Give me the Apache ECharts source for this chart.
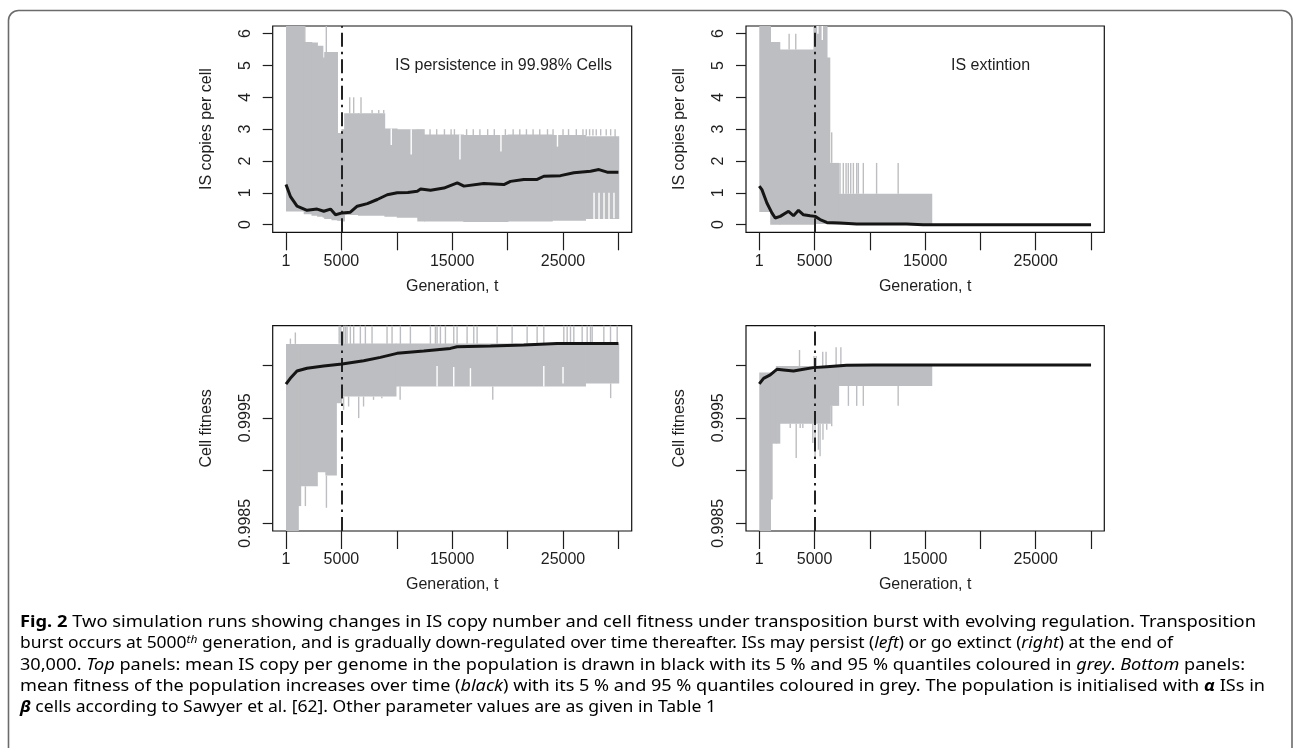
<!DOCTYPE html>
<html><head><meta charset="utf-8">
<script src="https://cdn.jsdelivr.net/npm/echarts@6/dist/echarts.min.js"></script>
<style>html,body{margin:0;padding:0;background:#fff}#c{width:1293px;height:748px}</style>
</head><body><div id="c"></div>
<script>
// ---------------- DATA ----------------
const genTicks = [1, 5000, 10000, 15000, 20000, 25000, 30000];
const genLabels = [1, 5000, 15000, 25000];
const copyTicks = [0, 1, 2, 3, 4, 5, 6];
const fitTicks = [0.9985, 0.999, 0.9995, 1.0];
const fitLabels = [0.9985, 0.9995];
const burstGen = 5000;

// Top-left: IS persistence
const tlMeanGen = [1, 393, 997, 1903, 2809, 3413, 4017, 4470, 5074, 5810, 6430, 7340, 8240, 9140, 10040, 11000, 11850, 12150, 13050, 14250, 15460, 16060, 17850, 19660, 20260, 21460, 22670, 23270, 24770, 25980, 27480, 28240, 28990, 30000];
const tlMeanVal = [1.26, 0.89, 0.58, 0.45, 0.49, 0.42, 0.49, 0.31, 0.37, 0.39, 0.58, 0.66, 0.79, 0.94, 1.0, 1.01, 1.05, 1.12, 1.08, 1.15, 1.31, 1.21, 1.29, 1.26, 1.36, 1.42, 1.42, 1.52, 1.54, 1.63, 1.68, 1.73, 1.65, 1.65];
const tlBandGen = [1, 1600, 2300, 2810, 3300, 3450, 4100, 4620, 5000, 5250, 6500, 8880, 10000, 11850, 12450, 16000, 20000, 24000, 27000, 30000];
const tlBandLo = [0.41, 0.33, 0.28, 0.25, 0.22, 0.18, 0.14, 0.12, 0.10, 0.30, 0.28, 0.25, 0.22, 0.10, 0.10, 0.08, 0.10, 0.12, 0.18];
const tlBandHi = [7, 5.74, 5.72, 5.62, 5.25, 5.42, 5.42, 2.88, 3.0, 3.5, 3.5, 3.02, 3.0, 3.0, 2.83, 2.82, 2.83, 2.82, 2.78];
const tlSpikeGen = [1700, 3640, 5750, 6110, 6770, 7770, 8370, 8820, 13000, 13600, 14300, 14900, 15200, 16300, 16900, 17500, 18200, 18800, 19800, 20500, 21100, 21700, 22300, 22900, 23600, 24100, 25000, 25500, 26200, 26800, 27100, 27400, 27700, 28000, 28400, 28900, 29300, 29700];
const tlSpikeLo = [5.7, 5.4, 3.5, 3.5, 3.5, 3.5, 3.5, 3.5, 2.8, 2.8, 2.8, 2.8, 2.8, 2.8, 2.8, 2.8, 2.8, 2.8, 2.8, 2.8, 2.8, 2.8, 2.8, 2.8, 2.8, 2.8, 2.8, 2.8, 2.8, 2.8, 2.8, 2.8, 2.8, 2.8, 2.8, 2.8, 2.8, 2.7];
const tlSpikeHi = [7, 7, 4.0, 4.0, 4.0, 3.6, 3.6, 3.6, 3.0, 3.0, 3.0, 3.0, 3.0, 3.0, 3.0, 3.0, 3.0, 3.0, 3.0, 3.0, 3.0, 3.0, 3.0, 3.0, 3.0, 3.0, 3.0, 3.0, 3.0, 3.0, 3.0, 3.0, 3.0, 3.0, 3.0, 3.0, 3.0, 3.0];
const tlGapGen = [9500, 11300, 15700, 19400, 24500, 27800, 28250, 28700, 29150, 29600];
const tlGapLo = [2.5, 2.2, 2.05, 2.3, 2.45, 0.15, 0.15, 0.15, 0.15, 0.2];
const tlGapHi = [3.02, 3.0, 2.83, 2.83, 2.83, 1.0, 1.0, 1.0, 1.0, 1.0];

// Top-right: IS extinction
const trMeanGen = [1, 240, 691, 1142, 1443, 1894, 2645, 3096, 3547, 3998, 4599, 5050, 5501, 6102, 7305, 8808, 13317, 14820, 30000];
const trMeanVal = [1.21, 1.10, 0.68, 0.37, 0.21, 0.26, 0.42, 0.28, 0.45, 0.31, 0.28, 0.26, 0.16, 0.07, 0.05, 0.02, 0.02, 0.0, 0.0];
const trBandGen = [1, 990, 1830, 4900, 6100, 6350, 7150, 15570];
const trBandLo = [0.40, 0.0, 0.0, 0.02, 0.0, 0.0, 0.0];
const trBandHi = [7, 5.74, 5.5, 7, 5.25, 1.94, 0.97];
const trSpikeGen = [2700, 3300, 6550, 7300, 7600, 7850, 8050, 8270, 8510, 8810, 8960, 9410, 10610, 12560];
const trSpikeLo = [5.5, 5.5, 1.94, 0.97, 0.97, 0.97, 0.97, 0.97, 0.97, 0.97, 0.97, 0.97, 0.97, 0.97];
const trSpikeHi = [6.0, 6.0, 2.9, 1.94, 1.94, 1.94, 1.94, 1.94, 1.94, 1.94, 1.94, 1.94, 1.94, 1.94];
const trGapGen = [5300, 5700];
const trGapLo = [6.0, 5.8];
const trGapHi = [6.3, 6.3];

// Bottom-left: fitness (persistence)
const blMeanGen = [1, 391, 993, 1896, 3401, 5057, 7013, 8518, 10023, 12431, 14839, 15441, 18451, 21461, 24471, 30000];
const blMeanVal = [0.999818, 0.999874, 0.999943, 0.999969, 0.99999, 1.00001, 1.000041, 1.000072, 1.00011, 1.000132, 1.000157, 1.000173, 1.000179, 1.000189, 1.000204, 1.000204];
const blBandGen = [1, 1087, 1300, 2800, 3550, 4520, 5000, 9900, 27000, 30000];
const blBandLo = [0.998, 0.998664, 0.998852, 0.998984, 0.998953, 0.999638, 0.999701, 0.999796, 0.999825];
const blBandHi = [1.000198, 1.000198, 1.000198, 1.000198, 1.000198, 1.000198, 1.000204, 1.000204, 1.000204];
const blSpikeGen = [1750, 3650, 5200, 5650, 6560, 7000, 7900, 8650, 10300, 18660, 29300, 400, 845, 4800, 4950, 5207, 5358, 5508, 5809, 6110, 6712, 7164, 7766, 9120, 9572, 10324, 11227, 13033, 13485, 13635, 13936, 14388, 15140, 15441, 16344, 16946, 17247, 19053, 20408, 21762, 22665, 23267, 25073, 25374, 25675, 25976, 26729, 27180, 27481, 27632, 28685, 29287, 29889];
const blSpikeLo = [0.998664, 0.998648, 0.999575, 0.999607, 0.999497, 0.999607, 0.99967, 0.999686, 0.99967, 0.99967, 0.999686, 1.0002, 1.0002, 1.0002, 1.0002, 1.0002, 1.0002, 1.0002, 1.0002, 1.0002, 1.0002, 1.0002, 1.0002, 1.0002, 1.0002, 1.0002, 1.0002, 1.0002, 1.0002, 1.0002, 1.0002, 1.0002, 1.0002, 1.0002, 1.0002, 1.0002, 1.0002, 1.0002, 1.0002, 1.0002, 1.0002, 1.0002, 1.0002, 1.0002, 1.0002, 1.0002, 1.0002, 1.0002, 1.0002, 1.0002, 1.0002, 1.0002, 1.0002];
const blSpikeHi = [0.998852, 0.998953, 0.999701, 0.999701, 0.999701, 0.999701, 0.999701, 0.999701, 0.999796, 0.999796, 0.999825, 1.00025, 1.000308, 1.0005, 1.0005, 1.0005, 1.0005, 1.0005, 1.0005, 1.0005, 1.0005, 1.0005, 1.0005, 1.0005, 1.0005, 1.0005, 1.0005, 1.0005, 1.0005, 1.0005, 1.0005, 1.0005, 1.0005, 1.0005, 1.0005, 1.0005, 1.0005, 1.0005, 1.0005, 1.0005, 1.0005, 1.0005, 1.0005, 1.0005, 1.0005, 1.0005, 1.0005, 1.0005, 1.0005, 1.0005, 1.0005, 1.0005, 1.0005];
const blGapGen = [13635, 15140, 16646, 23267, 25000];
const blGapLo = [0.999796, 0.999796, 0.999796, 0.999796, 0.999825];
const blGapHi = [0.99999, 0.99998, 0.99997, 0.99999, 0.99998];

// Bottom-right: fitness (extinction)
const brMeanGen = [1, 391, 992, 1593, 2194, 3096, 3998, 4900, 6102, 7906, 10310, 13317, 30000];
const brMeanVal = [0.999821, 0.999874, 0.999906, 0.999959, 0.999953, 0.999943, 0.999959, 0.999975, 0.999984, 0.999997, 1.0, 1.0, 1.0];
const brBandGen = [1, 990, 1140, 1500, 1830, 6400, 7150, 15570];
const brBandLo = [0.998, 0.998726, 0.999255, 0.999255, 0.999443, 0.999613, 0.999802];
const brBandHi = [0.999928, 0.999928, 0.999928, 0.99999, 0.99999, 0.99999, 0.99999];
const brSpikeGen = [3640, 4950, 5150, 5740, 6040, 6950, 7380, 2800, 3340, 3700, 3940, 4840, 5050, 5350, 5500, 5760, 6100, 6550, 8060, 8810, 9410, 12560];
const brSpikeLo = [0.99999, 0.99999, 0.99999, 0.99999, 0.99999, 0.99999, 0.99999, 0.999403, 0.999119, 0.999403, 0.999403, 0.999261, 0.999135, 0.999198, 0.999135, 0.999293, 0.999387, 0.99942, 0.999613, 0.999613, 0.999613, 0.999613];
const brSpikeHi = [1.000142, 1.000085, 1.000085, 1.000126, 1.000126, 1.000167, 1.000167, 0.999443, 0.999443, 0.999443, 0.999443, 0.999443, 0.999443, 0.999443, 0.999443, 0.999443, 0.999443, 0.999613, 0.999802, 0.999802, 0.999802, 0.999802];

const xAxisName = 'Generation, t';
const yNameTop = 'IS copies per cell';
const yNameBottom = 'Cell fitness';
const noteLeft = 'IS persistence in 99.98% Cells';
const noteRight = 'IS extintion';

const captionLines = [
  [['b', 'Fig. 2'], ['n', ' Two simulation runs showing changes in IS copy number and cell fitness under transposition burst with evolving regulation. Transposition']],
  [['n', 'burst occurs at 5000'], ['sup', 'th'], ['n', ' generation, and is gradually down-regulated over time thereafter. ISs may persist ('], ['i', 'left'], ['n', ') or go extinct ('], ['i', 'right'], ['n', ') at the end of']],
  [['n', '30,000. '], ['i', 'Top'], ['n', ' panels: mean IS copy per genome in the population is drawn in black with its 5\u00a0% and 95\u00a0% quantiles coloured in '], ['i', 'grey'], ['n', '. '], ['i', 'Bottom'], ['n', ' panels:']],
  [['n', 'mean fitness of the population increases over time ('], ['i', 'black'], ['n', ') with its 5\u00a0% and 95\u00a0% quantiles coloured in grey. The population is initialised with '], ['bi', '\u03b1'], ['n', ' ISs in']],
  [['bi', '\u03b2'], ['n', ' cells according to Sawyer et al. [62]. Other parameter values are as given in Table 1']]
];

// ---------------- LAYOUT / STYLE ----------------
const GREY = '#bdbec1';
const INK = '#1e1e1e';
const AXFONT = 'Liberation Sans';
const CAPFONT = 'Noto Sans';
const grids = [
  {left: 272.7, top: 26, width: 359, height: 206.3},
  {left: 746, top: 26, width: 358.3, height: 206.3},
  {left: 272.7, top: 325.7, width: 359, height: 205.3},
  {left: 746, top: 325.7, width: 358.3, height: 205.3}
];
const panels = [
  {mg: tlMeanGen, mv: tlMeanVal, bg: tlBandGen, bl: tlBandLo, bh: tlBandHi, sg: tlSpikeGen, sl: tlSpikeLo, sh: tlSpikeHi, gg: tlGapGen, gl: tlGapLo, gh: tlGapHi, top: true},
  {mg: trMeanGen, mv: trMeanVal, bg: trBandGen, bl: trBandLo, bh: trBandHi, sg: trSpikeGen, sl: trSpikeLo, sh: trSpikeHi, gg: trGapGen, gl: trGapLo, gh: trGapHi, top: true},
  {mg: blMeanGen, mv: blMeanVal, bg: blBandGen, bl: blBandLo, bh: blBandHi, sg: blSpikeGen, sl: blSpikeLo, sh: blSpikeHi, gg: blGapGen, gl: blGapLo, gh: blGapHi, top: false},
  {mg: brMeanGen, mv: brMeanVal, bg: brBandGen, bl: brBandLo, bh: brBandHi, sg: brSpikeGen, sl: brSpikeLo, sh: brSpikeHi, gg: [], gl: [], gh: [], top: false}
];

function clipTo(params, r) {
  const cs = params.coordSys;
  return echarts.graphic.clipRectByRect(r, {x: cs.x, y: cs.y, width: cs.width, height: cs.height});
}
function renderBand(params, api) {
  const a = api.coord([api.value(0), api.value(3)]);
  const b = api.coord([api.value(1), api.value(2)]);
  const r = clipTo(params, {x: a[0], y: a[1], width: Math.max(b[0] - a[0], 1.2) + 0.8, height: b[1] - a[1]});
  return r && {type: 'rect', shape: r, style: {fill: GREY, stroke: null, lineWidth: 0}};
}
function makeLineRender(color) {
  return function (params, api) {
    const a = api.coord([api.value(0), api.value(2)]);
    const b = api.coord([api.value(0), api.value(1)]);
    const r = clipTo(params, {x: a[0] - 0.7, y: a[1], width: 1.4, height: b[1] - a[1]});
    return r && {type: 'rect', shape: r, style: {fill: color, stroke: null, lineWidth: 0}};
  };
}

const xAxes = [], yAxes = [], series = [];
panels.forEach((p, i) => {
  xAxes.push({
    gridIndex: i, type: 'value', min: -1199, max: 31199,
    axisLine: {show: false, onZero: false},
    axisTick: {show: true, length: 18, customValues: genTicks, lineStyle: {color: INK, width: 1.2}},
    axisLabel: {customValues: genLabels, fontSize: 16, color: INK, margin: 21, fontFamily: AXFONT,
      formatter: v => String(Math.round(v))},
    splitLine: {show: false},
    name: xAxisName, nameLocation: 'middle', nameGap: 46,
    nameTextStyle: {fontSize: 16, color: INK, fontFamily: AXFONT}
  });
  yAxes.push(p.top ? {
    gridIndex: i, type: 'value', min: -0.24, max: 6.24,
    axisLine: {show: false, onZero: false},
    axisTick: {show: true, length: 10, customValues: copyTicks, lineStyle: {color: INK, width: 1.2}},
    axisLabel: {customValues: copyTicks, rotate: 90, fontSize: 16, color: INK, margin: 19, fontFamily: AXFONT,
      formatter: v => String(Math.round(v))},
    splitLine: {show: false},
    name: yNameTop, nameLocation: 'middle', nameGap: 58,
    nameTextStyle: {fontSize: 16, color: INK, fontFamily: AXFONT}
  } : {
    gridIndex: i, type: 'value', min: 0.998428, max: 1.000372,
    axisLine: {show: false, onZero: false},
    axisTick: {show: true, length: 10, customValues: fitTicks, lineStyle: {color: INK, width: 1.2}},
    axisLabel: {customValues: fitLabels, rotate: 90, fontSize: 16, color: INK, margin: 19, fontFamily: AXFONT,
      formatter: v => Number(v).toFixed(4)},
    splitLine: {show: false},
    name: yNameBottom, nameLocation: 'middle', nameGap: 58,
    nameTextStyle: {fontSize: 16, color: INK, fontFamily: AXFONT}
  });
  const band = [];
  for (let k = 0; k < p.bl.length; k++) band.push([p.bg[k], p.bg[k + 1], p.bl[k], p.bh[k]]);
  series.push({type: 'custom', xAxisIndex: i, yAxisIndex: i, renderItem: renderBand, data: band,
    encode: {x: [0, 1], y: [2, 3]}, silent: true, z: 1});
  series.push({type: 'custom', xAxisIndex: i, yAxisIndex: i, renderItem: makeLineRender(GREY),
    data: p.sg.map((g, k) => [g, p.sl[k], p.sh[k]]), encode: {x: 0, y: [1, 2]}, silent: true, z: 2});
  series.push({type: 'custom', xAxisIndex: i, yAxisIndex: i, renderItem: makeLineRender('#ffffff'),
    data: p.gg.map((g, k) => [g, p.gl[k], p.gh[k]]), encode: {x: 0, y: [1, 2]}, silent: true, z: 3});
  series.push({type: 'line', xAxisIndex: i, yAxisIndex: i, data: p.mg.map((g, k) => [g, p.mv[k]]),
    showSymbol: false, symbol: 'none', lineStyle: {color: '#151515', width: 3}, z: 5, silent: true,
    markLine: {silent: true, symbol: ['none', 'none'], label: {show: false},
      lineStyle: {color: '#222', width: 2, type: [14, 5, 2.5, 5]},
      data: [{xAxis: burstGen}], z: 4}
  });
});

// caption (rich text, fitted to the measured line widths)
const capTargets = [1236, 1153, 1225, 1245, 696];
const capY = [622, 643.5, 665, 686, 707.3];
const CAPSIZE = 16;
const capRich = {
  n: {fontSize: CAPSIZE, fontFamily: CAPFONT, color: '#231f20'},
  b: {fontSize: CAPSIZE, fontFamily: CAPFONT, fontWeight: 'bold', color: '#231f20'},
  i: {fontSize: CAPSIZE, fontFamily: CAPFONT, fontStyle: 'italic', color: '#231f20'},
  bi: {fontSize: CAPSIZE, fontFamily: CAPFONT, fontStyle: 'italic', fontWeight: 'bold', color: '#231f20'},
  sup: {fontSize: 11, fontFamily: CAPFONT, fontStyle: 'italic', color: '#231f20', verticalAlign: 'top', padding: [0, 0, 7, 0]}
};
const mctx = document.createElement('canvas').getContext('2d');
function fontOf(t) {
  const st = (t === 'i' || t === 'bi' || t === 'sup') ? 'italic ' : '';
  const wt = (t === 'b' || t === 'bi') ? 'bold ' : '';
  const sz = t === 'sup' ? 11 : CAPSIZE;
  return st + wt + sz + 'px "' + CAPFONT + '"';
}
const captionGraphics = captionLines.map((line, li) => {
  let w = 0;
  line.forEach(([t, s]) => { mctx.font = fontOf(t); w += mctx.measureText(s).width; });
  const sx = capTargets[li] / w;
  return {
    type: 'text', x: 20, y: capY[li], scaleX: sx, silent: true,
    style: {text: line.map(([t, s]) => '{' + t + '|' + s + '}').join(''), rich: capRich,
      verticalAlign: 'middle', align: 'left'}
  };
});

const option = {
  animation: false,
  backgroundColor: '#ffffff',
  grid: grids.map(g => Object.assign({show: true, borderColor: '#111', borderWidth: 1.2, backgroundColor: 'transparent'}, g)),
  xAxis: xAxes,
  yAxis: yAxes,
  series: series,
  graphic: [
    {type: 'rect', shape: {x: 8.5, y: 10.5, width: 1283.5, height: 800, r: 10}, silent: true,
      style: {fill: 'none', stroke: '#6b6b6b', lineWidth: 1.6}},
    {type: 'text', x: 395, y: 66, silent: true, z: 10,
      style: {text: noteLeft, fontSize: 16, fontFamily: AXFONT, fill: INK, verticalAlign: 'middle', align: 'left'}},
    {type: 'text', x: 951, y: 66, silent: true, z: 10,
      style: {text: noteRight, fontSize: 16, fontFamily: AXFONT, fill: INK, verticalAlign: 'middle', align: 'left'}}
  ].concat(captionGraphics)
};
const chart = echarts.init(document.getElementById('c'), null, {renderer: 'canvas'});
chart.setOption(option);
</script></body></html>
